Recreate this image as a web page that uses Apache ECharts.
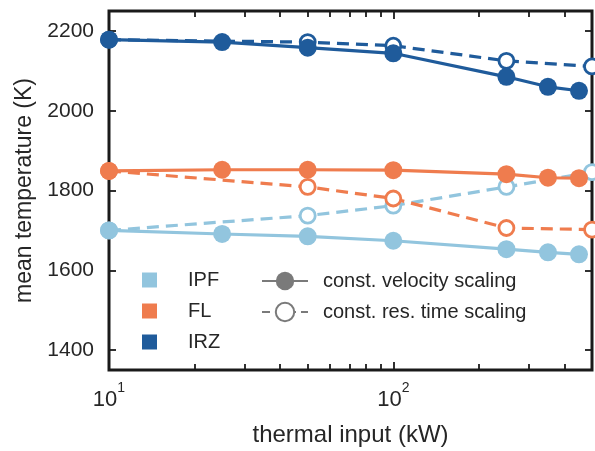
<!DOCTYPE html>
<html><head><meta charset="utf-8">
<script src="https://cdn.jsdelivr.net/npm/echarts@6/dist/echarts.min.js"></script>
<style>html,body{margin:0;padding:0;background:#fff}#c{width:595px;height:451px}</style>
</head><body><div id="c"></div><script>
// ---- data ----
const xSolid = [10, 25, 50, 100, 250, 350, 450];
const xHollow = [10, 50, 100, 250, 500];
const ipfSolid = [1700, 1691, 1685, 1674, 1653, 1645, 1640];
const flSolid  = [1849, 1852, 1852, 1851, 1841, 1832, 1831];
const irzSolid = [2178, 2172, 2158, 2144, 2085, 2060, 2050];
const ipfHollow = [1700, 1737, 1762, 1809, 1846];
const flHollow  = [1849, 1809, 1780, 1706, 1702];
const irzHollow = [2178, 2172, 2163, 2125, 2111];
const groupNames = ['IPF', 'FL', 'IRZ'];
const styleNames = ['const. velocity scaling', 'const. res. time scaling'];
const xMajor = [10, 100];
const xMinor = [20, 30, 40, 50, 60, 70, 80, 90, 200, 300, 400];
const yTicks = [1400, 1600, 1800, 2000, 2200];
const xRange = [10, 500];
const yRange = [1350, 2250];

// ---- styles ----
const colors = { IPF: '#92c5de', FL: '#ef7c4e', IRZ: '#1f5b9b' };
const gray = '#7a7a7a';
const ink = '#262626';
const frame = '#1a1a1a';
const dash = [12, 7];
const FONT = 'Liberation Sans';

function pairs(xs, ys) { return xs.map((x, i) => [x, ys[i]]); }

const solidData = { IPF: ipfSolid, FL: flSolid, IRZ: irzSolid };
const hollowData = { IPF: ipfHollow, FL: flHollow, IRZ: irzHollow };

const series = [];
groupNames.forEach(g => {
  series.push({
    name: g + ' res', type: 'line', data: pairs(xHollow, hollowData[g]),
    symbol: 'circle', symbolSize: 15, clip: false, z: 2,
    itemStyle: { color: '#fff', borderColor: colors[g], borderWidth: 2.8 },
    lineStyle: { color: colors[g], width: 3.2, type: dash }
  });
});
groupNames.forEach(g => {
  series.push({
    name: g + ' vel', type: 'line', data: pairs(xSolid, solidData[g]),
    symbol: 'circle', symbolSize: 18, clip: false, z: 3,
    itemStyle: { color: colors[g] },
    lineStyle: { color: colors[g], width: 3.2 }
  });
});
// legend-only series
groupNames.forEach(g => {
  series.push({ name: g, type: 'line', data: [], itemStyle: { color: colors[g] } });
});
series.push({ name: styleNames[0], type: 'line', data: [], symbol: 'circle',
  itemStyle: { color: gray }, lineStyle: { color: gray, width: 3.5 } });
series.push({ name: styleNames[1], type: 'line', data: [], symbol: 'circle',
  itemStyle: { color: '#fff', borderColor: gray, borderWidth: 3 },
  lineStyle: { color: gray, width: 3.5, type: [8, 5] } });

function xAxisDef(pos, ticks, len, showLabel) {
  return {
    type: 'log', logBase: 10, min: xRange[0], max: xRange[1], position: pos,
    axisLine: { show: false }, splitLine: { show: false },
    axisTick: { show: true, inside: true, length: len, customValues: ticks,
      lineStyle: { color: frame, width: 1.8 } },
    axisLabel: showLabel ? {
      show: true, customValues: xMajor, margin: 11,
      formatter: v => '{b|10}{s|' + Math.round(Math.log10(v)) + '}',
      rich: {
        b: { fontSize: 22, color: ink, fontFamily: FONT, verticalAlign: 'bottom' },
        s: { fontSize: 14, color: ink, fontFamily: FONT, verticalAlign: 'bottom', padding: [0, 0, 16, 0] }
      }
    } : { show: false }
  };
}

const option = {
  animation: false,
  backgroundColor: '#fff',
  textStyle: { fontFamily: FONT },
  grid: { left: 109, right: 3, top: 11, bottom: 81, show: true,
    borderColor: frame, borderWidth: 3, outerBoundsMode: 'none' },
  xAxis: [
    Object.assign(xAxisDef('bottom', xMajor, 8, true), {
      name: 'thermal input (kW)', nameLocation: 'middle', nameGap: 53,
      nameTextStyle: { fontSize: 24, color: ink, fontFamily: FONT }
    }),
    xAxisDef('bottom', xMinor, 6, false),
    xAxisDef('top', xMajor, 8, false),
    xAxisDef('top', xMinor, 6, false)
  ],
  yAxis: [
    {
      type: 'value', min: yRange[0], max: yRange[1], position: 'left',
      name: 'mean temperature (K)', nameLocation: 'middle', nameGap: 68,
      nameTextStyle: { fontSize: 23, color: ink, fontFamily: FONT },
      axisLine: { show: false }, splitLine: { show: false },
      axisTick: { show: true, inside: true, length: 7, customValues: yTicks,
        lineStyle: { color: frame, width: 1.8 } },
      axisLabel: { customValues: yTicks, fontSize: 21, color: ink, margin: 15,
        fontFamily: FONT, formatter: v => String(v) }
    },
    {
      type: 'value', min: yRange[0], max: yRange[1], position: 'right',
      axisLine: { show: false }, splitLine: { show: false },
      axisTick: { show: true, inside: true, length: 7, customValues: yTicks,
        lineStyle: { color: frame, width: 1.8 } },
      axisLabel: { show: false }
    }
  ],
  legend: [
    {
      data: groupNames, orient: 'vertical', left: 142, top: 270, padding: 0, icon: 'rect',
      itemWidth: 15, itemHeight: 15, itemGap: 11, selectedMode: false,
      textStyle: { fontSize: 20, color: ink, padding: [0, 0, 0, 26], lineHeight: 15,
        fontFamily: FONT }
    },
    {
      data: styleNames, orient: 'vertical', left: 261, top: 270, padding: 0,
      itemWidth: 46, itemHeight: 23, itemGap: 9, selectedMode: false,
      textStyle: { fontSize: 20, color: ink, padding: [0, 0, 0, 10], lineHeight: 22,
        fontFamily: FONT }
    }
  ],
  series: series
};

const chart = echarts.init(document.getElementById('c'), null, { renderer: 'canvas' });
chart.setOption(option);
</script></body></html>
